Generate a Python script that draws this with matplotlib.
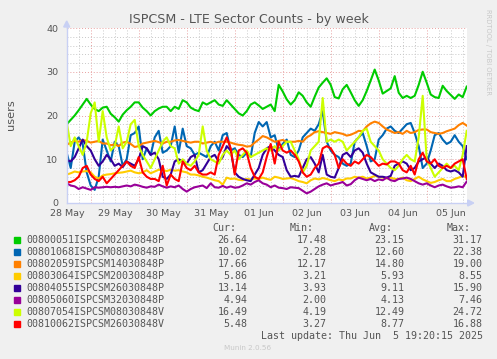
import numpy as np
import matplotlib
matplotlib.use("Agg")
import matplotlib.pyplot as plt
from matplotlib.patches import Rectangle, Polygon

# ---------------- data ----------------
start_day = 0.488          # days after 28 May 00:00 of first sample
step_day = 2.0 / 24.0      # 2-hour samples

names = ["00800051ISPCSM02030848P", "00801068ISPCSM08030848P", "00802059ISPCSM14030848P",
         "00803064ISPCSM20030848P", "00804055ISPCSM26030848P", "00805060ISPCSM32030848P",
         "00807054ISPCSM08030848V", "00810062ISPCSM26030848V"]
colors = ["#00CC00", "#0066B3", "#FF8000", "#FFCC00", "#330099", "#990099", "#CCFF00", "#FF0000"]

green = [18, 19, 20, 21.2, 22.5, 23.8, 22.5, 21.5, 21, 21.8, 22, 20.4, 19.6, 18.6, 20.2, 21.2, 22, 23, 23, 21.8,
         21, 20, 21, 21.6, 22, 22, 21, 22, 21.5, 23.5, 23, 21.8, 21.3, 21, 23, 22.5, 23, 23.5, 22.5, 22.2,
         23.5, 22.5, 21.5, 20.5, 20, 21, 22.5, 23, 22.3, 21.5, 22, 22.5, 21, 27, 25.5, 23.7, 22.5, 23.5, 25.3, 24.5,
         23, 22, 24.3, 26.4, 27.5, 28.5, 27, 24.2, 23.9, 26, 27, 25.3, 23.5, 22.2, 23.5, 25.6, 28, 30.5, 28, 25,
         25.6, 26.2, 29, 25.2, 24, 24.5, 24, 24.5, 27, 30, 27.5, 24.8, 24.2, 24, 26.8, 25.6, 24.7, 23.8, 24.8, 24.2,
         26.6]
blue = [11.5, 8, 14, 15, 13.5, 7, 4, 3, 6, 14.5, 12, 9.5, 14, 13, 8.5, 10, 15.5, 16, 17.5, 10,
        12.5, 11, 15, 16.5, 11.5, 12, 13, 17.5, 11.5, 17, 13, 12.5, 11, 11.5, 11, 10.5, 13, 14, 12, 15.5,
        16, 12, 12.5, 11, 10.5, 11.5, 10.5, 16, 18.5, 17.5, 18.5, 15, 15.5, 12, 13.5, 14.5, 11, 10.5, 12, 15,
        16, 17, 16.5, 18, 21, 14, 12, 11, 10.5, 9, 8.5, 9, 14, 15, 16, 13, 9.5, 10, 14.5, 15.5,
        17, 17.5, 16.5, 16, 17, 18, 18.3, 16, 13, 8, 9, 12, 15.5, 16, 14.5, 13.5, 14, 15.5, 14, 13,
        10]
orange = [13.3, 13.8, 14.2, 14, 14.4, 14.2, 13.8, 14, 14.2, 13.6, 13.6, 13.2, 13.4, 13, 13.8, 14, 13.5, 12.8, 13, 13.6,
          13.8, 14, 14.2, 13.9, 13.6, 14, 14, 14.3, 14.4, 14.2, 14, 13.8, 14, 14, 13.6, 13.8, 14, 13.7, 14, 14,
          14, 13.8, 13.5, 13.3, 13.2, 12.9, 13, 13.8, 14.5, 15.3, 15, 14.5, 14, 14.2, 14.4, 14, 14, 14, 14.2, 14,
          15, 15.5, 16.2, 16.4, 16.2, 16, 15.8, 16.2, 16, 15.8, 15.4, 15.6, 16, 16.5, 16.4, 17.5, 18.2, 18.6, 18.3, 17.5,
          16.8, 16.4, 16, 16.2, 15.8, 16.5, 16, 16.2, 16.7, 16.8, 16.8, 16.2, 16, 15.8, 16, 16.4, 16.7, 17, 17.8, 18.3,
          17.7]
yellow = [6.5, 6.8, 7.2, 7, 7.2, 7.3, 7, 6, 5.6, 6.3, 6.5, 6.6, 6.8, 6.9, 7, 7.2, 7.4, 7, 6.8, 7,
          7.5, 6.8, 7.2, 7.6, 7.5, 7.3, 7.6, 7.4, 7.5, 7.2, 7, 6.5, 6.5, 6.3, 6, 5.8, 5.5, 5.2, 5, 4.2,
          5.8, 5.5, 5.6, 5.3, 5.2, 5.5, 5.4, 5.6, 5.5, 5.8, 5.5, 5.3, 6, 5.8, 5.5, 5.6, 5.7, 5.4, 5, 4.8,
          4.5, 5.2, 5.6, 5.4, 5.7, 5.5, 5.2, 5, 5.4, 5.2, 5.6, 5.6, 6, 5.8, 6, 5.6, 5.8, 6.2, 6, 5.8,
          5.6, 5.8, 5.5, 5.5, 5.8, 5.2, 5, 5.5, 6, 5.4, 5, 4.6, 4.8, 5.2, 5.5, 5, 5, 5.5, 5.8, 6.2,
          5.9]
purple = [9.8, 9.5, 10.5, 12.5, 14.5, 13, 12, 10, 8.5, 9.5, 11, 10, 8.5, 9, 8.2, 9.5, 9, 8.5, 10, 13,
          12.5, 11, 11.5, 10, 6, 5.5, 6.5, 9.5, 10, 9.5, 9, 10.5, 11, 7, 7.5, 9, 10.5, 11, 9.5, 10.5,
          13, 12, 7, 6, 5.5, 5.2, 5, 6.5, 8, 11, 12.5, 13, 12, 11, 10.5, 7.5, 6, 6.2, 6, 8,
          10, 10.5, 9, 7, 11, 6.5, 6, 5.8, 8, 11, 11.5, 10.5, 12, 12.5, 11.5, 9, 7, 6.5, 6, 6,
          5.8, 6.2, 8.5, 9, 9.5, 9, 7.5, 8, 9.5, 10, 10.5, 9, 8, 9, 8.5, 7.5, 7.2, 7.5, 7, 6,
          13]
magenta = [4.5, 4, 3.8, 3.2, 3.6, 3.3, 3, 3.6, 3.5, 3.6, 3.7, 3.6, 3.7, 3.6, 3.8, 4, 3.8, 4.2, 4, 3.7,
           3.5, 3.8, 3.7, 4.2, 3.8, 3.5, 3.8, 3.6, 4, 3.2, 2.6, 3.2, 3.6, 3.8, 4, 3.4, 4.5, 3.6, 3.5, 3.9,
           3.5, 3.8, 3.5, 3.6, 4, 4.5, 4.2, 4.8, 5.2, 4.5, 4.2, 3.6, 4, 3.5, 3.4, 3.2, 3.6, 3.5, 3.4, 2.8,
           2.2, 2.6, 3.2, 3.8, 4.2, 4.5, 4, 4.3, 4.5, 4.8, 4, 4.3, 5.2, 5.8, 5.5, 5.2, 5.5, 5, 5.4, 5.2,
           5.8, 5.2, 5, 5.5, 5.6, 5.8, 5.5, 5, 4.5, 4.2, 4.5, 4, 3.6, 4, 4.2, 3.8, 3.5, 3.6, 3.8, 3.6,
           4.9]
lime = [18.5, 13, 15, 13, 11, 14, 20.5, 23, 14, 21, 15, 12, 13, 17.5, 12.5, 14, 18, 19, 13, 11,
        9.5, 8, 10, 12, 14, 15, 13, 12.5, 9, 10, 9, 8.5, 9.5, 11, 17.5, 12, 10, 9.5, 9, 11,
        12, 11, 12, 10, 11, 12, 10.5, 11, 11.5, 12, 12.5, 12, 13, 12, 13, 14, 14, 12, 10, 7,
        8.5, 12, 13, 14, 24, 14, 14.5, 14, 14.5, 14, 12, 13, 14, 15, 16.5, 17, 14, 13, 12, 10,
        9, 8, 7.5, 8.5, 10, 11, 10, 9.5, 15, 24.5, 10, 8, 6, 7, 8, 9, 8, 8.5, 7.5, 11,
        16.5]
red = [4.8, 4.8, 5.2, 6, 8, 8.5, 6.5, 5.5, 5, 6, 4.5, 5.5, 6.5, 7.5, 8.5, 9.5, 8.5, 8, 10.5, 7,
       6, 5.5, 5.5, 5, 8.5, 4, 6.5, 5.5, 5, 9.5, 8, 7.5, 8.5, 7, 6.5, 6.5, 7, 6.5, 11, 13,
       15, 12.5, 6.5, 12, 12.5, 11.5, 8, 6, 5.5, 7, 10.5, 13.5, 9, 14, 12, 11.5, 12, 11, 9.5, 7,
       6, 6.5, 8, 9, 12.5, 13, 12.5, 11, 8, 10, 9, 8.5, 9.5, 9, 10, 11, 10.5, 9.5, 8.5, 9,
       8.8, 9.5, 9.5, 9, 7.5, 7, 8.5, 6.5, 10, 11.5, 9.5, 9, 10, 8.5, 8, 8.5, 8, 9, 9.5, 10,
       5.5]
series = [green, blue, orange, yellow, purple, magenta, lime, red]

cur = ["26.64", "10.02", "17.66", "5.86", "13.14", "4.94", "16.49", "5.48"]
mins = ["17.48", "2.28", "12.17", "3.21", "3.93", "2.00", "4.19", "3.27"]
avgs = ["23.15", "12.60", "14.80", "5.93", "9.11", "4.13", "12.49", "8.77"]
maxs = ["31.17", "22.38", "19.00", "8.55", "15.90", "7.46", "24.72", "16.88"]

day_labels = ["28 May", "29 May", "30 May", "31 May", "01 Jun", "02 Jun", "03 Jun", "04 Jun", "05 Jun"]
y_ticks = [0, 10, 20, 30, 40]

# ---------------- figure ----------------
W, H = 497, 359
fig = plt.figure(figsize=(W / 100, H / 100), dpi=100, facecolor="#F0F0F0")

def fx(px):
    return px / W

def fy(py):
    return 1 - py / H

x0, x1, ytop, ybot = 66.7, 466.7, 28.0, 203.0
ax = fig.add_axes([fx(x0), fy(ybot), (x1 - x0) / W, (ybot - ytop) / H])
ax.set_facecolor("white")

n = len(green)
t = start_day + step_day * np.arange(n)
ax.set_xlim(t[0], t[-1])
ax.set_ylim(0, 40)

# grid
for h in np.arange(0, 9.01, 0.25):
    if t[0] < h < t[-1] + 0.01:
        if abs(h - round(h)) < 1e-6:
            ax.axvline(h, color="#E8A0A0", lw=0.7, ls=(0, (1, 2)), zorder=1)
        else:
            ax.axvline(h, color="#C8C8C8", lw=0.7, ls=(0, (1, 2)), zorder=1)
for v in range(2, 41, 2):
    if v % 10 == 0:
        ax.axhline(v, color="#E8A0A0", lw=0.7, ls=(0, (1, 2)), zorder=1)
    else:
        ax.axhline(v, color="#C8C8C8", lw=0.7, ls=(0, (1, 2)), zorder=1)

for s, c in zip(series, colors):
    ax.plot(t, s, color=c, lw=1.5, zorder=3, solid_joinstyle="round")

# axes
for sp in ["top", "right"]:
    ax.spines[sp].set_visible(False)
for sp in ["left", "bottom"]:
    ax.spines[sp].set_color("#C8D0F4")
    ax.spines[sp].set_linewidth(1.0)
    ax.spines[sp].set_zorder(4)

ax.set_xticks([i + 0.5 for i in range(len(day_labels))])
ax.set_xticklabels(day_labels)
ax.set_yticks(y_ticks)
ax.set_yticklabels([str(v) for v in y_ticks])
ax.tick_params(length=0, labelsize=6.8, colors="#555555", pad=4)
ax.tick_params(axis="y", pad=6)

# arrows
axis_col = "#C8D0F4"
fig.add_artist(Polygon([[fx(x0 - 3), fy(ytop - 1)], [fx(x0 + 3), fy(ytop - 1)], [fx(x0), fy(ytop - 7)]],
                       closed=True, color=axis_col, transform=fig.transFigure))
fig.add_artist(plt.Line2D([fx(x0), fx(x0)], [fy(ytop), fy(ytop - 2)], color=axis_col, lw=1,
                          transform=fig.transFigure))
fig.add_artist(plt.Line2D([fx(x1), fx(x1 + 2)], [fy(ybot), fy(ybot)], color=axis_col, lw=1,
                          transform=fig.transFigure))
fig.add_artist(Polygon([[fx(x1 + 1), fy(ybot - 3)], [fx(x1 + 1), fy(ybot + 3)], [fx(x1 + 7), fy(ybot)]],
                       closed=True, color=axis_col, transform=fig.transFigure))

# texts
fig.text(fx(248.7), fy(20), "ISPCSM - LTE Sector Counts - by week", ha="center", va="center",
         fontsize=9.1, color="#555555")
fig.text(fx(11), fy(115), "users", rotation=90, ha="center", va="center", fontsize=8.2, color="#555555")
fig.text(fx(488), fy(52), "RRDTOOL / TOBI OETIKER", rotation=270, ha="center", va="center",
         fontsize=4.9, color="#C8C8C8")

mono = "DejaVu Sans Mono"
tc = "#555555"
fs = 7.2
for hdr, xl in zip(["Cur:", "Min:", "Avg:", "Max:"], [212.7, 290.0, 369.0, 446.7]):
    fig.text(fx(xl), fy(227.7), hdr, ha="left", va="center", family=mono, fontsize=fs, color=tc)

row_y0, row_dy = 239.7, 12.0
for k in range(len(names)):
    yy = row_y0 + k * row_dy
    fig.add_artist(Rectangle((fx(14), fy(yy + 3)), 6 / W, 6 / H, color=colors[k],
                             transform=fig.transFigure))
    fig.text(fx(26.5), fy(yy), names[k], ha="left", va="center", family=mono, fontsize=fs, color=tc)
    for val, xr in zip([cur[k], mins[k], avgs[k], maxs[k]], [247.7, 326.7, 404.3, 482.7]):
        fig.text(fx(xr), fy(yy), val, ha="right", va="center", family=mono, fontsize=fs, color=tc)

fig.text(fx(482.7), fy(335.7), "Last update: Thu Jun  5 19:20:15 2025", ha="right", va="center",
         family=mono, fontsize=fs, color=tc)
fig.text(fx(248), fy(348), "Munin 2.0.56", ha="center", va="center", fontsize=5.2, color="#C8C8C8")

fig.savefig("out.png", dpi=100, facecolor=fig.get_facecolor())
